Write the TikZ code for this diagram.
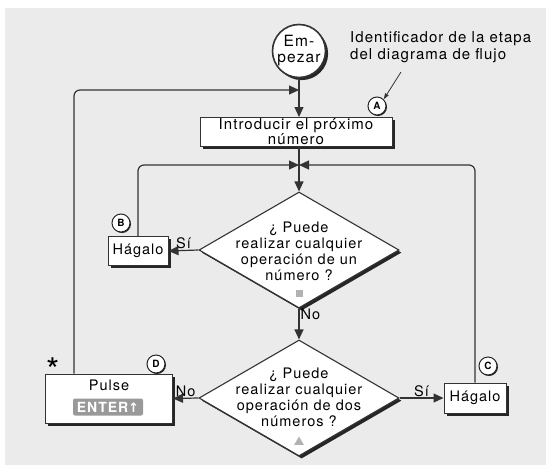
\documentclass[tikz,border=0pt]{standalone}
\usepackage{fontspec}
\setmainfont[LetterSpace=7]{TeX Gyre Heros}
\newfontfamily\arrowfont{DejaVu Sans}
\usetikzlibrary{arrows.meta,shapes.geometric,shadows}
\newcommand\flowsize{\fontsize{14.5}{16}\selectfont}

\tikzset{
  flow/.style={line width=1.2pt, draw=black!80, -{Triangle[length=10pt,width=9pt]}},
  pointer/.style={line width=0.8pt, draw=black!80, -{Triangle[length=6pt,width=4pt]}},
  boxshadow/.style={drop shadow={shadow xshift=2.6pt, shadow yshift=-2.6pt, fill=black!85, opacity=1}},
  actbox/.style={rectangle, draw=black!80, line width=1pt, fill=white, boxshadow,
    inner sep=0pt, align=center, font=\flowsize},
  ask/.style={diamond, draw=black!80, line width=1.1pt, fill=white, boxshadow,
    inner sep=0pt, minimum width=200pt, minimum height=116pt},
  asktext/.style={align=center, inner sep=0pt, font=\flowsize},
  stepid/.style={circle, draw=black!85, line width=1pt, fill=white, minimum size=18pt,
    inner sep=0pt, font=\bfseries\fontsize{10}{10}\selectfont,
    drop shadow={shadow xshift=1pt, shadow yshift=-1pt, fill=black!85, opacity=1}},
  answer/.style={inner sep=1pt, font=\flowsize},
}

\begin{document}
\begin{tikzpicture}[x=1pt,y=-1pt]
  \useasboundingbox (0,0) rectangle (546,469);
  \fill[black!8] (5,8) rectangle (546,465);

  % etapas
  \node[actbox, circle, line width=1.6pt, minimum size=53pt,
    font=\fontsize{15.5}{16}\selectfont] (start) at (299,51) {Em-\\pezar};
  \node[actbox, minimum width=192pt, minimum height=29pt,
    font=\fontsize{15}{13.5}\selectfont] (next) at (296,132) {Introducir el próximo\\número};
  \coordinate (top) at (299,90);
  \coordinate (junc) at (299,165);

  \node[ask] (q1) at (299,250) {};
  \node[asktext] (q1t) at (299,251) {¿ Puede\\realizar cualquier\\operación de un\\número ?};
  \node[rectangle, fill=black!30, minimum size=7pt, inner sep=0pt] (m1) at (299,293) {};

  \node[ask] (q2) at (299,398) {};
  \node[asktext] (q2t) at (299,397) {¿ Puede\\realizar cualquier\\operación de dos\\números ?};
  \node[regular polygon, regular polygon sides=3, fill=black!30, minimum size=11pt,
    inner sep=0pt] (m2) at (299,442) {};

  \node[actbox, minimum width=60pt, minimum height=29pt] (doB) at (138,251) {Hágalo};
  \node[actbox, minimum width=62pt, minimum height=30pt] (doC) at (475,398) {Hágalo};
  \node[actbox, minimum width=127pt, minimum height=49pt] (enter) at (109,398.5) {};
  \node[answer] (pulse) at (109,385) {Pulse};
  \node[rectangle, rounded corners=2pt, fill=black!40, text=white, minimum width=70pt,
    minimum height=17pt, inner sep=1pt, font=\bfseries\fontsize{14}{14}\selectfont]
    (key) at (108,407) {ENTER{\arrowfont\bfseries\fontsize{13}{13}\selectfont ↑}};

  % identificadores
  \node[stepid] (idA) at (377,106) {A};
  \node[stepid] (idB) at (121,223) {B};
  \node[stepid] (idC) at (488,366) {C};
  \node[stepid] (idD) at (156,364) {D};
  \node[font=\fontsize{34}{34}\selectfont, inner sep=0pt] (star) at (53,370) {*};

  \node[align=left, anchor=west, inner sep=0pt, font=\fontsize{15}{17}\selectfont]
    (note) at (350,47) {Identificador de la etapa\\del diagrama de flujo};
  \coordinate (noteTip) at (401,72);
  \draw[pointer] (noteTip) -- (idA.north east);

  % conectores
  \draw[flow] (start.south) -- (start.south |- next.north);
  \draw[flow] (junc |- next.south) -- (q1.north);
  \draw[flow] (q1.south) -- node[answer, anchor=west, pos=0.2] {No} (q2.north);
  \draw[flow] (q1.west) -- node[answer, anchor=south] {Sí} (doB.east);
  \draw[flow] (q2.west) -- node[answer, anchor=south] {No} (enter.east);
  \draw[flow] (q2.east) -- node[answer, anchor=south] {Sí} (doC.west);
  \draw[flow, rounded corners=6pt] (doB.north) |- (junc);
  \draw[flow, rounded corners=6pt] (doC.north) |- (junc);
  \draw[flow, rounded corners=6pt] ([xshift=29pt]enter.north west) |- (top);
\end{tikzpicture}
\end{document}
